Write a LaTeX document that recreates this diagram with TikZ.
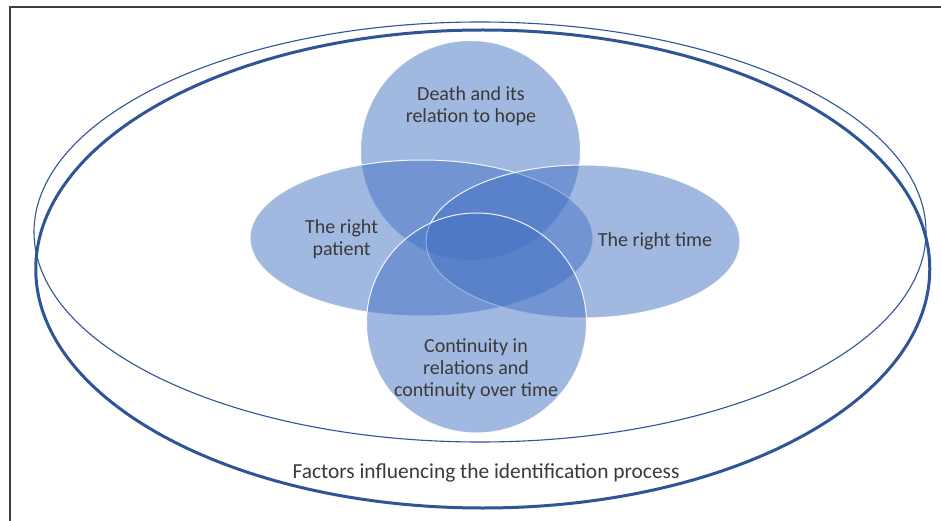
\documentclass[tikz,border=0pt]{standalone}
\usepackage{fontspec}
\setmainfont{Carlito}
\usetikzlibrary{shapes.geometric}
\definecolor{frameline}{HTML}{3F3F3F}
\definecolor{ringblue}{HTML}{2F5597}
\definecolor{petal}{HTML}{4472C4}
\definecolor{labeltext}{HTML}{3A3A3A}
\begin{document}
\begin{tikzpicture}[x=1pt,y=-1pt,
  ring/.style={ellipse, draw=ringblue, inner sep=0pt, outer sep=0pt},
  petalcircle/.style={circle, fill=petal, fill opacity=0.5, draw=white, draw opacity=0.9,
    line width=1pt, inner sep=0pt, minimum size=220},
  petalellipse/.style={ellipse, fill=petal, fill opacity=0.5, draw=white, draw opacity=0.9,
    line width=1pt, inner sep=0pt},
  petaltext/.style={text=labeltext, align=center, inner sep=0pt,
    font=\fontsize{20}{21.7}\selectfont},
]
\useasboundingbox (0,0) rectangle (941,521);
\fill[white] (0,0) rectangle (941,521);

% frame (top and left edges)
\draw[frameline, line width=2pt] (10,521) -- (10,7.5) -- (941,7.5);

% outer rings
\node[ring, line width=1.1pt, minimum width=892, minimum height=420] (ringthin) at (480,232) {};
\node[ring, line width=3pt, minimum width=894, minimum height=478] (ringthick) at (482.75,269) {};

% four overlapping factors
\node[petalcircle] (hope) at (470.5,150.5) {};
\node[petalellipse, minimum width=343, minimum height=156] (patient) at (421.5,238) {};
\node[petalellipse, minimum width=314, minimum height=153] (time) at (583,241.5) {};
\node[petalcircle] (continuity) at (476.5,323) {};

% labels
\node[petaltext] (hopetext) at (471,106) {Death and its\\relation to hope};
\node[petaltext] (patienttext) at (341.6,239) {The right\\patient};
\node[petaltext] (timetext) at (655,241) {The right time};
\node[petaltext] (continuitytext) at (476,369) {Continuity in\\relations and\\continuity over time};
\node[petaltext, font=\fontsize{21.4}{23}\selectfont] (factorstext) at (486,472.5)
  {Factors influencing the identification process};
\end{tikzpicture}
\end{document}
